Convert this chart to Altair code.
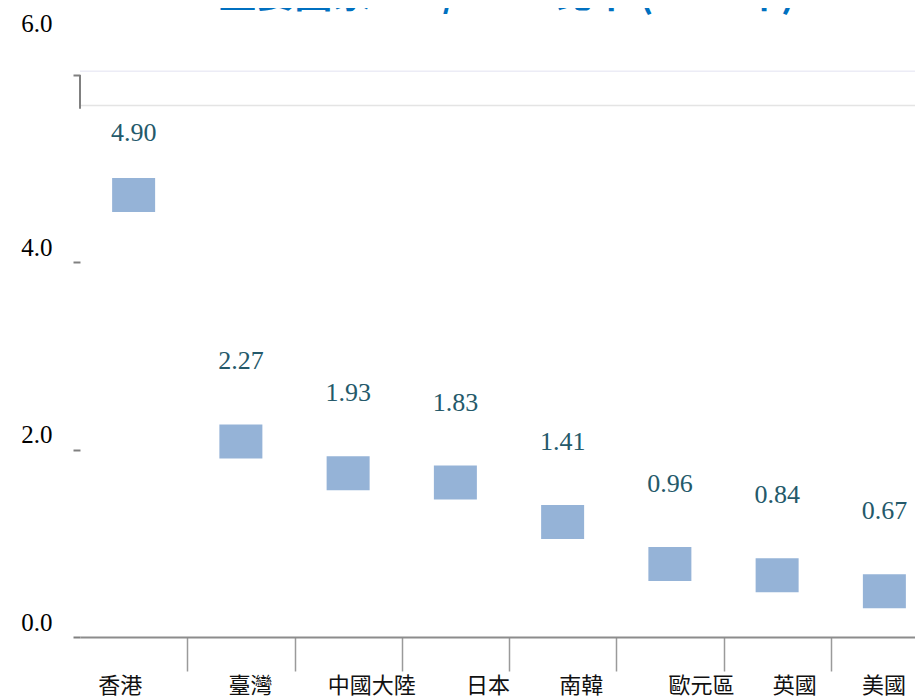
import altair as alt
import pandas as pd

categories = ["香港", "臺灣", "中國大陸", "日本", "南韓", "歐元區", "英國", "美國"]
values = [4.90, 2.27, 1.93, 1.83, 1.41, 0.96, 0.84, 0.67]
y_ticks = [0, 2, 4, 6]
title_text = "主要國家 M2 / GDP 比率 (2020年)"

df = pd.DataFrame({"country": categories, "value": values})

label_shift = {"香港": -14, "臺灣": 9, "中國大陸": 23, "日本": 32,
               "南韓": 18, "歐元區": 31, "英國": 17, "美國": -1}
x_label_offset = {
    "condition": [{"test": f"datum.value === '{k}'", "value": v} for k, v in label_shift.items()],
    "value": 0,
}

x_enc = alt.X(
    "country:N",
    sort=categories,
    scale=alt.Scale(range=[0, 858], paddingInner=0, paddingOuter=0),
    axis=alt.Axis(
        title=None,
        labelAngle=0,
        labelFont="Noto Sans CJK TC",
        labelFontSize=22,
        labelColor="#111111",
        labelPadding=4,
        labelBaseline="top",
        labelOffset=x_label_offset,
        tickBand="extent",
        tickSize=34,
        tickColor=alt.condition("datum.extra", alt.value("transparent"), alt.value("#9a9a9a")),
        tickWidth=1.5,
        domainColor="#8c8c8c",
        domainWidth=2,
        grid=False,
    ),
)

y_enc = alt.Y(
    "value:Q",
    scale=alt.Scale(domain=[0, 6], nice=False),
    axis=alt.Axis(
        title=None,
        values=y_ticks,
        format=".1f",
        labelFont="Liberation Serif",
        labelFontSize=25,
        labelColor="#000000",
        labelPadding=21,
        labelBaseline="middle",
        labelOffset=alt.condition("datum.value == 6", alt.value(-52), alt.value(-15)),
        tickSize=7,
        tickColor="#808080",
        tickWidth=2,
        domain=False,
        grid=False,
    ),
)

base = alt.Chart(df)

squares = base.mark_tick(size=43, thickness=34, yOffset=17, color="#95b3d7", opacity=1).encode(
    x=x_enc, y=y_enc
)

labels = base.mark_text(
    font="Liberation Serif",
    fontSize=26,
    color="#24596a",
    baseline="alphabetic",
    align="center",
    dy={"expr": "datum.value > 4 ? -37 : -55"},
).encode(
    x=alt.X("country:N", sort=categories),
    y="value:Q",
    text=alt.Text("value:Q", format=".2f"),
)

one = pd.DataFrame({"a": [0]})
top_line = alt.Chart(one).mark_rule(color="#ececf6", strokeWidth=1.5).encode(y=alt.datum(6.04))
second_line = alt.Chart(one).mark_rule(color="#e4e4e4", strokeWidth=1.5).encode(y=alt.datum(5.675))
short_axis = alt.Chart(one).mark_rule(color="#808080", strokeWidth=2).encode(
    x=alt.value(0), y=alt.datum(6.0), y2=alt.datum(5.64)
)

# chart heading: as in the reference, only its lowest strokes fall inside the page
heading = alt.Chart(one).mark_text(
    text=title_text,
    font="Noto Sans CJK TC",
    fontSize=38,
    fontWeight="bold",
    color="#0070c0",
    baseline="alphabetic",
    align="center",
).encode(x=alt.value(427), y=alt.value(-68))

chart = alt.layer(top_line, second_line, short_axis, squares, labels, heading).properties(
    width=835,
    height=562,
    autosize=alt.AutoSizeParams(type="none"),
    padding={"left": 72, "top": 67, "right": 0, "bottom": 66},
).configure_view(stroke=None)

chart.save("out.html", embed_options={"renderer": "svg", "actions": False})
